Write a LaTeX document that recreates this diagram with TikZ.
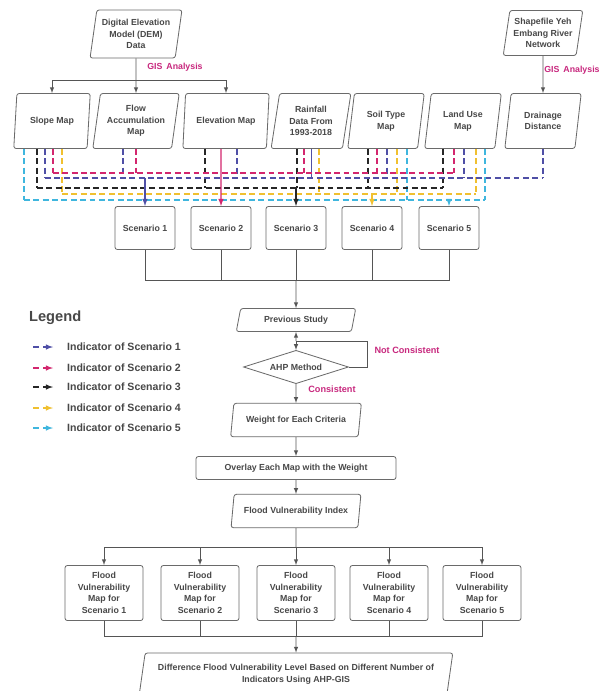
\documentclass[tikz,border=0pt]{standalone}
\usepackage{fontspec}
\setmainfont{Liberation Sans}
\usepackage{xcolor}
\usetikzlibrary{shapes.geometric, positioning, calc}

\definecolor{boxline}{HTML}{6A6A6A}
\definecolor{linegray}{HTML}{555555}
\definecolor{boxtext}{HTML}{484848}
\definecolor{gislabel}{HTML}{C8287E}
\definecolor{indblue}{HTML}{4F4FA6}
\definecolor{indpink}{HTML}{D3266E}
\definecolor{indblack}{HTML}{262626}
\definecolor{indyellow}{HTML}{F0C030}
\definecolor{indcyan}{HTML}{3FB6DE}

\tikzset{
	base/.style={font=\fontsize{7.5}{9.8}\selectfont\bfseries, text=boxtext, align=center},
	databox/.style={base, draw=boxline, line width=0.7pt, trapezium, trapezium left angle=79, trapezium right angle=101, trapezium stretches=true, rounded corners=2pt, inner sep=1pt},
	procbox/.style={base, draw=boxline, line width=0.7pt, rectangle, rounded corners=2pt, inner sep=2pt},
	scenbox/.style={procbox, minimum width=1.8cm, minimum height=1.29cm},
	fvmbox/.style={procbox, minimum width=2.34cm, minimum height=1.65cm},
	decision/.style={base, draw=boxline, line width=0.7pt, diamond, aspect=3.2, inner sep=1pt, minimum width=3.15cm, minimum height=1cm},
	flowline/.style={draw=linegray, line width=0.7pt},
	flowarrow/.style={flowline, -latex},
	gistext/.style={font=\fontsize{7.5}{9}\selectfont\bfseries, text=gislabel},
	legtext/.style={font=\fontsize{9}{11}\selectfont\bfseries, text=boxtext, anchor=west},
	ind1/.style={indblue, line width=1.1pt, dash pattern=on 5pt off 3pt},
	ind2/.style={indpink, line width=1.1pt, dash pattern=on 5pt off 3pt},
	ind3/.style={indblack, line width=1.1pt, dash pattern=on 5pt off 3pt},
	ind4/.style={indyellow, line width=1.1pt, dash pattern=on 5pt off 3pt},
	ind5/.style={indcyan, line width=1.1pt, dash pattern=on 5pt off 3pt},
}

\begin{document}
\begin{tikzpicture}[x=0.03cm, y=-0.03cm]
	\fill[white] (0,0) rectangle (608,691);
	\useasboundingbox (0,0) rectangle (608,691);
	\clip (0,0) rectangle (608,691);

	% Input data
	\node[databox, minimum width=2.76cm, minimum height=1.44cm] (dem) at (136,34) {Digital Elevation\\Model (DEM)\\Data};
	\node[databox, minimum width=2.4cm, minimum height=1.35cm] (shp) at (543,33) {Shapefile Yeh\\Embang River\\Network};

	% Indicator maps
	\node[databox, minimum width=2.3cm, minimum height=1.65cm] (slope) at (52,121) {Slope Map};
	\node[databox, minimum width=2.6cm, minimum height=1.65cm] (flow) at (136,121) {Flow\\Accumulation\\Map};
	\node[databox, minimum width=2.6cm, minimum height=1.65cm] (elev) at (226,121) {Elevation Map};
	\node[databox, minimum width=2.4cm, minimum height=1.65cm] (rain) at (311,121) {Rainfall\\Data From\\1993-2018};
	\node[databox, minimum width=2.3cm, minimum height=1.65cm] (soil) at (386,121) {Soil Type\\Map};
	\node[databox, minimum width=2.3cm, minimum height=1.65cm] (land) at (463,121) {Land Use\\Map};
	\node[databox, minimum width=2.3cm, minimum height=1.65cm] (drain) at (543,121) {Drainage\\Distance};

	\coordinate (demsplit) at (136,80);
	\draw[flowarrow] (dem.south) -- (flow.north);
	\draw[flowarrow] (demsplit) -| (slope.north);
	\draw[flowarrow] (demsplit) -| (elev.north);
	\draw[flowarrow] (shp.south) -- (drain.north);
	\node[gistext] (gis1) at (175,67) {GIS\, Analysis};
	\node[gistext] (gis2) at (572,70) {GIS\, Analysis};

	% Scenarios
	\node[scenbox] (sc1) at (145,228) {Scenario 1};
	\node[scenbox] (sc2) at (221,228) {Scenario 2};
	\node[scenbox] (sc3) at (296,228) {Scenario 3};
	\node[scenbox] (sc4) at (372,228) {Scenario 4};
	\node[scenbox] (sc5) at (449,228) {Scenario 5};

	% Indicator buses
	\coordinate (bus1l) at (45,178);  \coordinate (bus1r) at (542,178);
	\coordinate (bus2l) at (53,173);  \coordinate (bus2r) at (454,173);
	\coordinate (bus3l) at (37,188);  \coordinate (bus3r) at (443,188);
	\coordinate (bus4l) at (62,194);  \coordinate (bus4r) at (476,194);
	\coordinate (bus5l) at (24,200);  \coordinate (bus5r) at (485,200);

	\foreach \m/\dx in {slope/-7, flow/-13, elev/11, soil/1, land/1, drain/0}
		\draw[ind1] ($(\m.south)+(\dx,0)$) coordinate (st) -- (st |- bus1l);
	\foreach \m/\dx in {slope/1, flow/0, rain/-7, soil/-9, land/-9}
		\draw[ind2] ($(\m.south)+(\dx,0)$) coordinate (st) -- (st |- bus2l);
	\foreach \m/\dx in {slope/-15, elev/-21, rain/-14, soil/-18, land/-20}
		\draw[ind3] ($(\m.south)+(\dx,0)$) coordinate (st) -- (st |- bus3l);
	\foreach \m/\dx in {slope/10, rain/8, soil/11, land/13}
		\draw[ind4] ($(\m.south)+(\dx,0)$) coordinate (st) -- (st |- bus4l);
	\foreach \m/\dx in {slope/-28, soil/21, land/22}
		\draw[ind5] ($(\m.south)+(\dx,0)$) coordinate (st) -- (st |- bus5l);
	\draw[indblue, line width=0.6pt] (rain.south) -- (rain.south |- bus1l);

	\draw[ind1] (bus1l) -- (bus1r);
	\draw[ind2] (bus2l) -- (bus2r);
	\draw[ind3] (bus3l) -- (bus3r);
	\draw[ind4] (bus4l) -- (bus4r);
	\draw[ind5] (bus5l) -- (bus5r);

	\draw[indblue, line width=1.1pt, -latex] (sc1.north |- bus1l) -- (sc1.north);
	\draw[indpink, line width=1.1pt, -latex] ($(elev.south)+(-5,0)$) -- (sc2.north);
	\draw[indblack, line width=1.1pt, -latex] (sc3.north |- bus3l) -- (sc3.north);
	\draw[indyellow, line width=1.1pt, -latex] (sc4.north |- bus4l) -- (sc4.north);
	\draw[indcyan, line width=1.1pt, -latex] (sc5.north |- bus5l) -- (sc5.north);

	% AHP process
	\node[databox, minimum width=3.6cm, minimum height=0.69cm, trapezium left angle=76, trapezium right angle=104] (prev) at (296,320) {Previous Study};
	\node[decision] (ahp) at (296,367) {AHP Method};
	\node[databox, minimum width=3.96cm, minimum height=1cm, trapezium left angle=76, trapezium right angle=104] (weight) at (296,420) {Weight for Each Criteria};
	\node[procbox, minimum width=6cm, minimum height=0.69cm] (overlay) at (296,468) {Overlay Each Map with the Weight};
	\node[databox, minimum width=3.93cm, minimum height=1cm, trapezium left angle=76, trapezium right angle=104] (fvi) at (296,511) {Flood Vulnerability Index};

	\coordinate (scmerge) at (296,280);
	\foreach \s in {sc1, sc2, sc4, sc5}
		\draw[flowline] (\s.south) |- (scmerge);
	\draw[flowline] (sc3.south) -- (scmerge);
	\draw[flowarrow] (scmerge) -- (prev.north);

	\coordinate (loopjoin) at (296,341);
	\coordinate (loopcorner) at (367,341);
	\draw[flowarrow] (loopjoin) -- (prev.south);
	\draw[flowarrow] (loopjoin) -- (ahp.north);
	\draw[flowline] (ahp.east) -| (loopcorner) -- (loopjoin);
	\node[gistext, font=\fontsize{7.8}{9}\selectfont\bfseries] (notcons) at (407,350) {Not Consistent};
	\node[gistext, font=\fontsize{7.8}{9}\selectfont\bfseries] (cons) at (332,389) {Consistent};

	\draw[flowarrow] (ahp.south) -- (weight.north);
	\draw[flowarrow] (weight.south) -- (overlay.north);
	\draw[flowarrow] (overlay.south) -- (fvi.north);

	% Flood vulnerability maps
	\node[fvmbox] (fvm1) at (104,593) {Flood\\Vulnerability\\Map for\\Scenario 1};
	\node[fvmbox] (fvm2) at (200,593) {Flood\\Vulnerability\\Map for\\Scenario 2};
	\node[fvmbox] (fvm3) at (296,593) {Flood\\Vulnerability\\Map for\\Scenario 3};
	\node[fvmbox] (fvm4) at (389,593) {Flood\\Vulnerability\\Map for\\Scenario 4};
	\node[fvmbox] (fvm5) at (482,593) {Flood\\Vulnerability\\Map for\\Scenario 5};

	\coordinate (fvisplit) at (296,547);
	\draw[flowline] (fvi.south) -- (fvisplit);
	\foreach \f in {fvm1, fvm2, fvm3, fvm4, fvm5}
		\draw[flowarrow] (fvisplit) -| (\f.north);

	\node[databox, minimum width=9.42cm, minimum height=1.26cm, trapezium left angle=76, trapezium right angle=104] (diff) at (296,674) {Difference Flood Vulnerability Level Based on Different Number of\\Indicators Using AHP-GIS};

	\coordinate (fvmmerge) at (296,636);
	\foreach \f in {fvm1, fvm2, fvm4, fvm5}
		\draw[flowline] (\f.south) |- (fvmmerge);
	\draw[flowline] (fvm3.south) -- (fvmmerge);
	\draw[flowarrow] (fvmmerge) -- (diff.north);

	% Legend
	\node[font=\fontsize{12.5}{15}\selectfont\bfseries, text=boxtext, anchor=west] (legend) at (25,318) {Legend};
	\node[legtext] (leg1) at (63,347) {Indicator of Scenario 1};
	\node[legtext] (leg2) at (63,368) {Indicator of Scenario 2};
	\node[legtext] (leg3) at (63,387) {Indicator of Scenario 3};
	\node[legtext] (leg4) at (63,408) {Indicator of Scenario 4};
	\node[legtext] (leg5) at (63,428) {Indicator of Scenario 5};
	\foreach \k/\c in {1/indblue, 2/indpink, 3/indblack, 4/indyellow, 5/indcyan} {
		\draw[\c, line width=1.1pt] ($(leg\k.west)+(-30,0)$) -- ++(6,0);
		\draw[\c, line width=1.1pt, -latex] ($(leg\k.west)+(-20,0)$) -- ++(10,0);
	}
\end{tikzpicture}
\end{document}
